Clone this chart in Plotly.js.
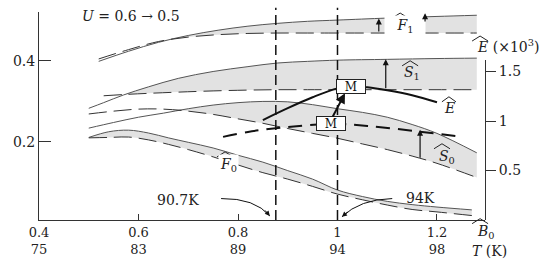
<!DOCTYPE html>
<html>
<head>
<meta charset="utf-8">
<script src="https://cdn.plot.ly/plotly-3.0.1.min.js"></script>
<style>
  html, body { margin: 0; padding: 0; background: #fff; }
  #chart { width: 550px; height: 260px; }
</style>
</head>
<body>
<div id="chart"></div>
<script>
// x axis: reduced field B0, second row is the temperature in K
const bTicks = [0.4, 0.6, 0.8, 1.0, 1.2];
const bTickText = ['0.4', '0.6', '0.8', '1', '1.2'];
const tTickText = ['75', '83', '89', '94', '98'];

// F1 band (solid = U 0.6, dashed = U 0.5)
const f1X = [0.52, 0.58, 0.64, 0.70, 0.76, 0.82, 0.88, 0.94, 1.00, 1.10, 1.20, 1.28];
const f1Solid = [0.399, 0.424, 0.446, 0.463, 0.476, 0.486, 0.493, 0.498, 0.501, 0.506, 0.510, 0.513];
const f1Dash = [0.405, 0.428, 0.448, 0.459, 0.465, 0.468, 0.469, 0.469, 0.469, 0.469, 0.469, 0.469];

// S1 band
const s1X = [0.50, 0.53, 0.57, 0.62, 0.68, 0.75, 0.82, 0.88, 0.94, 1.00, 1.10, 1.20, 1.28];
const s1Solid = [0.283, 0.297, 0.316, 0.336, 0.357, 0.374, 0.386, 0.395, 0.399, 0.402, 0.404, 0.406, 0.407];
const s1Dash = [null, 0.314, 0.317, 0.320, 0.323, 0.326, 0.328, 0.329, 0.329, 0.329, 0.329, 0.329, 0.329];

// S0 band
const s0X = [0.50, 0.55, 0.60, 0.65, 0.70, 0.75, 0.80, 0.85, 0.90, 0.95, 1.00, 1.05, 1.10, 1.15, 1.20, 1.28];
const s0Solid = [0.234, 0.248, 0.261, 0.271, 0.282, 0.291, 0.297, 0.300, 0.299, 0.292, 0.282, 0.273, 0.261, 0.243, 0.221, 0.173];
const s0Dash = [0.269, 0.276, 0.281, 0.281, 0.276, 0.268, 0.257, 0.246, 0.233, 0.221, 0.209, 0.195, 0.181, 0.165, 0.147, 0.112];

// F0 band
const f0X = [0.50, 0.54, 0.58, 0.62, 0.66, 0.70, 0.75, 0.80, 0.85, 0.90, 0.95, 1.00, 1.05, 1.10, 1.15, 1.20, 1.27];
const f0Solid = [0.211, 0.225, 0.229, 0.222, 0.210, 0.199, 0.185, 0.167, 0.150, 0.129, 0.108, 0.081, 0.065, 0.053, 0.045, 0.039, 0.032];
const f0Dash = [0.210, 0.211, 0.212, 0.205, 0.194, 0.181, 0.163, 0.143, 0.124, 0.108, 0.090, 0.071, 0.057, 0.044, 0.033, 0.027, 0.018];

// E (x10^3), right axis
const e6X = [0.85, 0.90, 0.95, 1.00, 1.03, 1.06, 1.10, 1.15, 1.20];
const e6 = [1.01, 1.13, 1.24, 1.33, 1.35, 1.34, 1.31, 1.26, 1.19];
const e5X = [0.77, 0.82, 0.90, 0.99, 1.06, 1.17, 1.25];
const e5 = [0.84, 0.89, 0.94, 0.97, 0.95, 0.89, 0.84];

// maxima of E
const mX = [1.027, 0.987];
const mE = [1.345, 0.970];

// transition temperatures (90.7K, 94K)
const vLines = [0.876, 1.0];

const serif = 'DejaVu Serif, Liberation Serif, serif';
const fillGray = '#e2e2e2';

const traces = [];

function addBand(x, solid, dash) {
    // fill only where the solid curve lies above the dashed one
    const fx = [], lo = [], hi = [];
    x.forEach((v, i) => {
        if (dash[i] == null) return;
        fx.push(v);
        lo.push(dash[i]);
        hi.push(Math.max(solid[i], dash[i]));
    });
    traces.push({ x: fx, y: lo, mode: 'lines', line: { width: 0, shape: 'spline' }, hoverinfo: 'skip' });
    traces.push({ x: fx, y: hi, mode: 'lines', fill: 'tonexty', fillcolor: fillGray,
        line: { width: 0, shape: 'spline' }, hoverinfo: 'skip' });
}

function addLines(x, solid, dash) {
    traces.push({ x: x, y: solid, mode: 'lines', line: { color: '#555', width: 1, shape: 'spline' } });
    traces.push({ x: x, y: dash, mode: 'lines', line: { color: '#333', width: 1, dash: '18px,7px', shape: 'spline' } });
}

addBand(f1X, f1Solid, f1Dash);
addBand(s1X, s1Solid, s1Dash);
addBand(s0X, s0Solid, s0Dash);
addBand(f0X, f0Solid, f0Dash);
addLines(f1X, f1Solid, f1Dash);
addLines(s1X, s1Solid, s1Dash);
addLines(s0X, s0Solid, s0Dash);
addLines(f0X, f0Solid, f0Dash);

traces.push({ x: e6X, y: e6, yaxis: 'y2', mode: 'lines', line: { color: '#111', width: 2, shape: 'spline' } });
traces.push({ x: e5X, y: e5, yaxis: 'y2', mode: 'lines', line: { color: '#111', width: 2, dash: '14px,8px', shape: 'spline' } });

function label(x, y, text, extra) {
    return Object.assign({ x: x, y: y, xref: 'x', yref: 'y', text: text, showarrow: false,
        xanchor: 'center', yanchor: 'middle',
        font: { family: serif, size: 14, color: '#222' } }, extra || {});
}
function paperLabel(x, y, text) {
    return label(x, y, text, { xref: 'paper', yref: 'paper' });
}
function arrow(x, y0, y1) {
    return { x: x, y: y1, ax: x, ay: y0, axref: 'x', ayref: 'y', xref: 'x', yref: 'y', text: '',
        showarrow: true, arrowhead: 2, arrowsize: 1, arrowwidth: 1.2, arrowcolor: '#111' };
}
function mBox(i) {
    return { x: mX[i], y: mE[i], xref: 'x', yref: 'y2', text: 'M', showarrow: false, bgcolor: '#fff',
        bordercolor: '#222', borderwidth: 1, width: 26, height: 11,
        font: { family: serif, size: 12, color: '#111' } };
}

const annotations = [
    label(0.585, 0.511, '<i>U</i> = 0.6 → 0.5'),
    label(1.136, 0.486, '<i>F</i><sub>1</sub>', { bgcolor: '#fff', width: 38, height: 18 }),
    arrow(1.083, 0.469, 0.505),
    arrow(1.176, 0.494, 0.518),
    label(1.150, 0.370, '<i>S</i><sub>1</sub>'),
    arrow(1.097, 0.329, 0.404),
    label(1.226, 0.284, '<i>E</i>'),
    label(1.220, 0.163, '<i>S</i><sub>0</sub>'),
    arrow(1.166, 0.157, 0.230),
    label(0.780, 0.143, '<i>F</i><sub>0</sub>', { bgcolor: '#fff' }),
    label(0.679, 0.057, '90.7K'),
    label(1.166, 0.062, '94K'),
    // maxima markers on the E curves
    mBox(1),
    { x: 1.015, y: 1.28, ax: 0.989, ay: 1.03, axref: 'x', ayref: 'y2', xref: 'x', yref: 'y2', text: '',
      showarrow: true, arrowhead: 2, arrowsize: 1, arrowwidth: 2, arrowcolor: '#111' },
    mBox(0),
    // arrow heads of the curved pointers
    { x: 0.864, y: 0.017, ax: -6, ay: -7, xref: 'x', yref: 'y', text: '', showarrow: true,
      arrowhead: 2, arrowsize: 1, arrowwidth: 1, arrowcolor: '#111' },
    { x: 1.009, y: 0.015, ax: 7, ay: -6, xref: 'x', yref: 'y', text: '', showarrow: true,
      arrowhead: 2, arrowsize: 1, arrowwidth: 1, arrowcolor: '#111' },
    // axis titles
    paperLabel(1.052, 0.837, '<i>E</i> (×10<sup>3</sup>)'),
    paperLabel(1.002, -0.058, '<i>B</i><sub>0</sub>'),
    paperLabel(1.011, -0.148, '<i>T</i> (K)')
];

const shapes = vLines.map(v => ({
    type: 'line', xref: 'x', yref: 'paper', x0: v, x1: v, y0: 0, y1: 1.02,
    line: { color: '#111', width: 1.5, dash: '10px,5px' }
}));
// curved pointers from the temperature labels
shapes.push({ type: 'path', xref: 'x', yref: 'y', path: 'M 0.766,0.060 Q 0.834,0.061 0.864,0.017',
    line: { color: '#111', width: 1 } });
shapes.push({ type: 'path', xref: 'x', yref: 'y', path: 'M 1.110,0.060 Q 1.045,0.058 1.009,0.015',
    line: { color: '#111', width: 1 } });

// wide hats over the symbol labels, sized in pixels around an anchor
function hat(x, y, xref, yref, w) {
    const d = w || 8;
    shapes.push({ type: 'path', xref: xref || 'x', yref: yref || 'y', xsizemode: 'pixel', ysizemode: 'pixel',
        xanchor: x, yanchor: y, path: `M ${-d},-2 L 0,3 L ${d},-2`, line: { color: '#222', width: 1 } });
}
hat(1.126, 0.511);
hat(1.146, 0.393);
hat(1.224, 0.304, 'x', 'y', 7);
hat(1.210, 0.188);
hat(0.774, 0.168);
hat(0.989, 0.870, 'paper', 'paper');
hat(0.989, -0.008, 'paper', 'paper');

const layout = {
    width: 550,
    height: 260,
    margin: { l: 39, r: 65, t: 12, b: 40 },
    paper_bgcolor: '#fff',
    plot_bgcolor: 'rgba(0,0,0,0)',
    showlegend: false,
    font: { family: serif, size: 13, color: '#222' },
    xaxis: {
        range: [0.4, 1.2965],
        tickvals: bTicks,
        ticktext: bTicks.map((v, i) => bTickText[i] + '<br>' + tTickText[i]),
        ticks: 'inside', ticklen: 6, tickcolor: '#333',
        showline: true, linecolor: '#333', linewidth: 1,
        showgrid: false, zeroline: false,
        tickfont: { family: serif, size: 13, color: '#222' }
    },
    yaxis: {
        range: [0.007, 0.521],
        tickvals: [0.2, 0.4],
        ticktext: ['0.2', '0.4'],
        ticks: 'inside', ticklen: 12, tickcolor: '#333',
        showline: true, linecolor: '#333', linewidth: 1,
        showgrid: false, zeroline: false,
        tickfont: { family: serif, size: 14, color: '#222' }
    },
    yaxis2: {
        domain: [0, 0.769],
        range: [0, 1.616],
        anchor: 'x',
        side: 'right',
        tickvals: [0.5, 1, 1.5],
        ticktext: ['0.5', '1', '1.5'],
        ticks: 'outside', ticklen: 10, tickcolor: '#333',
        showline: true, linecolor: '#333', linewidth: 1,
        showgrid: false, zeroline: false,
        tickfont: { family: serif, size: 14, color: '#222' }
    },
    annotations: annotations,
    shapes: shapes
};

Plotly.newPlot('chart', traces, layout, { displayModeBar: false, staticPlot: true });
</script>
</body>
</html>
